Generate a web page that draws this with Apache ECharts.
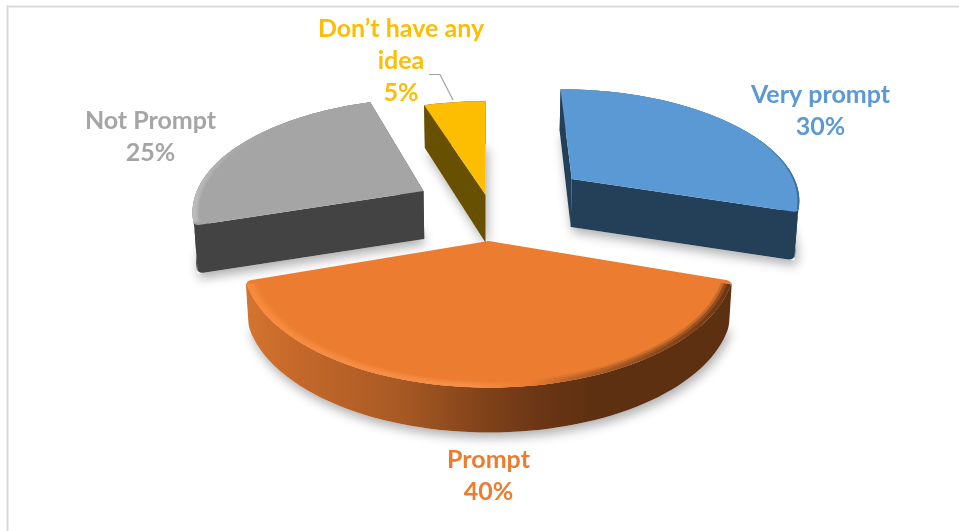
<!DOCTYPE html>
<html>
<head>
<meta charset="utf-8">
<style>html,body{margin:0;padding:0;background:#fff}#chart{width:959px;height:531px}</style>
<script src="https://cdn.jsdelivr.net/npm/echarts@6/dist/echarts.min.js"></script>
</head>
<body>
<div id="chart"></div>
<script>
// Survey shares, clockwise from twelve o'clock
const categories = ['Very prompt', 'Prompt', 'Not Prompt', 'Don\u2019t have any\nidea'];
const shares = [30, 40, 25, 5];

// Slice colours
const topColors = ['#5a99d4', '#eb7c30', '#a5a5a5', '#fdbd00'];
const wallColors = ['#243f58', '#5e3012', '#434343', '#675000'];

// How far each slice is pulled out of the pie, in disc radii (right, back)
const explodeX = [0.385, 0.011, -0.276, -0.002];
const explodeY = [0.01, -0.5415, -0.105, -0.14];

// Label centres
const labelX = [820.5, 488.5, 150.5, 401];
const labelY = [111, 476, 137, 61];

// Perspective camera for the disc
const camera = { cx: 486, cy: 180, rx: 223, ry: 103.5, k: 0.15, depth: 48, converge: 0.988 };

function project(x, y) {
  const w = 1 + camera.k * y;
  return [camera.cx + camera.rx * x / w, camera.cy - camera.ry * y / w, w];
}
function topPoint(i, ang, r) {
  const p = project(explodeX[i] + r * Math.sin(ang), explodeY[i] + r * Math.cos(ang));
  return [p[0], p[1]];
}
function lower(i, pt, w) {
  const d = Math.min(camera.depth, camera.depth / w) - (i === 1 ? 3 : 0);
  return [camera.cx + (pt[0] - camera.cx) * camera.converge, pt[1] + d];
}
function arcAngles(a0, a1) {
  const n = Math.max(4, Math.ceil((a1 - a0) / (2 * Math.PI / 180)));
  const out = [];
  for (let j = 0; j <= n; j++) out.push(a0 + (a1 - a0) * j / n);
  return out;
}
// Replaces the listed vertices of a polygon by a small curve
function roundVertices(pts, corners, r) {
  const out = [];
  pts.forEach((p, idx) => {
    if (corners.indexOf(idx) < 0) { out.push(p); return; }
    const a = pts[(idx - 1 + pts.length) % pts.length];
    const b = pts[(idx + 1) % pts.length];
    const la = Math.hypot(a[0] - p[0], a[1] - p[1]);
    const lb = Math.hypot(b[0] - p[0], b[1] - p[1]);
    const ra = Math.min(r, la * 0.9), rb = Math.min(r, lb * 0.9);
    const s = [p[0] + (a[0] - p[0]) * ra / la, p[1] + (a[1] - p[1]) * ra / la];
    const e = [p[0] + (b[0] - p[0]) * rb / lb, p[1] + (b[1] - p[1]) * rb / lb];
    for (let t = 0; t <= 1.001; t += 0.2) {
      const u = 1 - t;
      out.push([u * u * s[0] + 2 * u * t * p[0] + t * t * e[0], u * u * s[1] + 2 * u * t * p[1] + t * t * e[1]]);
    }
  });
  return out;
}

const total = shares.reduce((a, b) => a + b, 0);
function sliceAngles(i) {
  const before = shares.slice(0, i).reduce((a, b) => a + b, 0);
  return [before / total * 2 * Math.PI, (before + shares[i]) / total * 2 * Math.PI];
}
function geometry(i) {
  const [a0, a1] = sliceAngles(i);
  const ang = arcAngles(a0, a1);
  const apex3 = project(explodeX[i], explodeY[i]);
  const apex = [apex3[0], apex3[1]];
  const arc = [], arcLow = [];
  ang.forEach(t => {
    const x = explodeX[i] + Math.sin(t), y = explodeY[i] + Math.cos(t);
    const p = project(x, y);
    arc.push([p[0], p[1]]);
    arcLow.push(lower(i, p, p[2]));
  });
  return { a0, a1, apex, apexLow: lower(i, apex, apex3[2]), arc, arcLow };
}

// Horizontal colour ramps, in page pixels
function ramp(stops, x0, x1) {
  return new echarts.graphic.LinearGradient(x0, 0, x1, 0, stops.map(s => ({
    offset: (s[0] - x0) / (x1 - x0), color: s[1]
  })), true);
}
const orangeWall = () => ramp([[245, '#d4742e'], [300, '#c4682a'], [400, '#a85a24'], [480, '#82431a'], [540, '#6b3615'], [590, '#5e3012'], [733, '#5e3012']], 245, 733);
const rims = [
  () => ramp([[560, '#5a99d4'], [740, '#5a99d4'], [775, '#4f88bb'], [800, '#3a6a94']], 560, 800),
  () => ramp([[245, '#f68b3e'], [470, '#f68f48'], [530, '#eb7c30'], [570, '#b9652a'], [650, '#8d4c1f'], [733, '#6a3616']], 245, 733),
  () => ramp([[190, '#bdbdbd'], [230, '#aaaaaa'], [270, '#a5a5a5'], [372, '#a5a5a5']], 190, 372),
  () => '#fdbd00'
];
const rimEdges = [[0.992], [0.985, 0.973, 0.962], [0.985, 0.975], []];
const rimOpacity = [1, 0.6, 0.3];

function polygon(points, style) {
  return { type: 'polygon', shape: { points }, style, silent: true };
}

function renderShadow(params) {
  const g = geometry(params.dataIndex);
  const floor = [g.apexLow].concat(g.arcLow);
  return polygon(floor, {
    fill: '#ffffff',
    shadowBlur: 11,
    shadowColor: 'rgba(0,0,0,0.32)',
    shadowOffsetX: 2,
    shadowOffsetY: 5
  });
}

function renderSlice(params) {
  const i = params.dataIndex;
  const g = geometry(i);
  const wall = wallColors[i];
  const children = [];
  const n = g.arc.length - 1;

  // Cut faces from the centre to each end of the arc; the large front slice hides its own
  if (i !== 1) {
    const startFace = [g.apex, g.arc[0], g.arcLow[0], g.apexLow];
    const endFace = [g.apex, g.arc[n], g.arcLow[n], g.apexLow];
    children.push(polygon(i === 2 ? roundVertices(startFace, [1, 2], 6) : startFace, { fill: wall }));
    children.push(polygon(i === 0 ? roundVertices(endFace, [1, 2], 6) : endFace, { fill: wall }));
  }

  // Curved outer wall with softened corners
  const outer = g.arc.concat(g.arcLow.slice().reverse());
  const wallCorners = i === 3 ? [] : i === 0 ? [n, n + 1] : i === 2 ? [0, 2 * n + 1] : [0, n, n + 1, 2 * n + 1];
  children.push(polygon(roundVertices(outer, wallCorners, 6), { fill: i === 1 ? orangeWall() : wall }));

  // Top face
  const top = [g.apex].concat(g.arc);
  const rounded = i === 3 ? top : roundVertices(top, i === 0 ? [n + 1] : i === 2 ? [1] : [1, n + 1], 6);
  children.push(polygon(rounded, { fill: topColors[i] }));

  // Bevelled rim just inside the arc
  const trim = 1.6 * Math.PI / 180;
  const ang = arcAngles(g.a0 + (i === 0 ? 0 : trim), g.a1 - (i === 2 ? 0 : trim));
  rimEdges[i].forEach((inner, w) => {
    const outerEdge = ang.map(t => topPoint(i, t, 1));
    const innerEdge = ang.map(t => topPoint(i, t, inner)).reverse();
    children.push(polygon(outerEdge.concat(innerEdge), { fill: rims[i](), opacity: rimOpacity[w] }));
  });

  // Category name and share above each other
  children.push({
    type: 'text',
    silent: true,
    style: {
      x: labelX[i],
      y: labelY[i],
      text: categories[i] + '\n' + shares[i] + '%',
      fill: topColors[i],
      font: 'bold 25px Lato, Carlito, sans-serif',
      align: 'center',
      verticalAlign: 'middle',
      lineHeight: 32
    }
  });
  return { type: 'group', children };
}

const rows = categories.map((c, i) => [c, shares[i]]);
const chart = echarts.init(document.getElementById('chart'), null, { renderer: 'canvas' });
chart.setOption({
  animation: false,
  backgroundColor: '#ffffff',
  tooltip: { show: false },
  series: [
    { type: 'custom', coordinateSystem: 'none', data: rows, renderItem: renderShadow, silent: true, z: 1 },
    { type: 'custom', coordinateSystem: 'none', data: rows, renderItem: renderSlice, silent: true, z: 2 }
  ],
  graphic: [
    // Chart-area border
    { type: 'polyline', z: 0, silent: true, shape: { points: [[7.5, 531], [7.5, 6.5], [959, 6.5]] }, style: { stroke: '#d9d9d9', lineWidth: 2, fill: null } },
    // Leader from the small slice to its label
    { type: 'polyline', z: 5, silent: true, shape: { points: [[429, 74.5], [440, 74.5], [453, 100]] }, style: { stroke: '#a0a0a0', lineWidth: 1.2, fill: null } }
  ]
});
</script>
</body>
</html>
